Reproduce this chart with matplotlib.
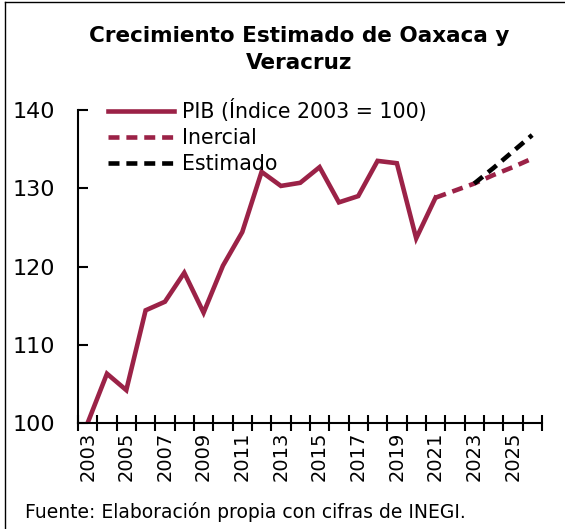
import numpy as np
import matplotlib.pyplot as plt
from matplotlib.lines import Line2D

years = list(range(2003, 2027))
pib = [100.0, 106.3, 104.2, 114.4, 115.5, 119.2, 114.1, 120.1, 124.4, 132.1,
       130.3, 130.7, 132.7, 128.2, 129.0, 133.5, 133.2, 123.6, 128.8]
inercial_years = [2021, 2022, 2023, 2024, 2025, 2026]
inercial = [128.8, 129.7, 130.6, 131.7, 132.7, 133.8]
estimado_years = [2023, 2024, 2025, 2026]
estimado = [130.6, 132.6, 134.7, 136.8]
label_years = years[::2]

maroon = "#9B2247"
plt.rcParams['font.family'] = ['DejaVu Sans']

fig = plt.figure(figsize=(5.65, 5.29), dpi=100)
ax = fig.add_axes([0.138, 0.2004, 0.821, 0.5916])

idx = lambda ys: [years.index(y) for y in ys]
ax.plot(idx(years[:len(pib)]), pib, color=maroon, lw=3.3, label="PIB (Índice 2003 = 100)",
        solid_joinstyle="miter")
ax.plot(idx(inercial_years), inercial, color=maroon, lw=3.3, ls=(0, (2.4, 1.5)), label="Inercial")
ax.plot(idx(estimado_years), estimado, color="black", lw=3.3, ls=(0, (2.4, 1.5)), label="Estimado")

ax.set_xlim(-0.5, len(years) - 0.5)
ax.set_ylim(100, 140)
ax.set_yticks([100, 110, 120, 130, 140])
ax.tick_params(axis="y", direction="in", length=7, width=1.5, labelsize=16, pad=16.5)

ax.set_xticks(np.arange(-0.5, len(years)), minor=False)
ax.set_xticklabels([])
ax.tick_params(axis="x", which="major", direction="inout", length=12, width=1.5)
ax.set_xticks(idx(label_years), minor=True)
ax.set_xticklabels([str(y) for y in label_years], minor=True, rotation=90, fontsize=14)
ax.tick_params(axis="x", which="minor", length=0, pad=6)

for s in ["top", "right"]:
    ax.spines[s].set_visible(False)
for s in ["left", "bottom"]:
    ax.spines[s].set_linewidth(1.5)

ax.legend(loc="upper left", bbox_to_anchor=(0.025, 1.095), frameon=False, fontsize=14.8,
          handlelength=3.2, handletextpad=0.4, labelspacing=0.3)

fig.text(0.53, 0.906, "Crecimiento Estimado de Oaxaca y\nVeracruz", ha="center", va="center",
         fontsize=15.5, fontweight="bold", linespacing=1.45)
fig.text(0.045, 0.032, "Fuente: Elaboración propia con cifras de INEGI.", fontsize=13.5,
         va="center")

fig.add_artist(Line2D([0.009, 0.009], [0, 0.996], color="black", lw=1, transform=fig.transFigure))
fig.add_artist(Line2D([0.009, 1], [0.996, 0.996], color="black", lw=1, transform=fig.transFigure))

fig.savefig("out.png", dpi=100)
